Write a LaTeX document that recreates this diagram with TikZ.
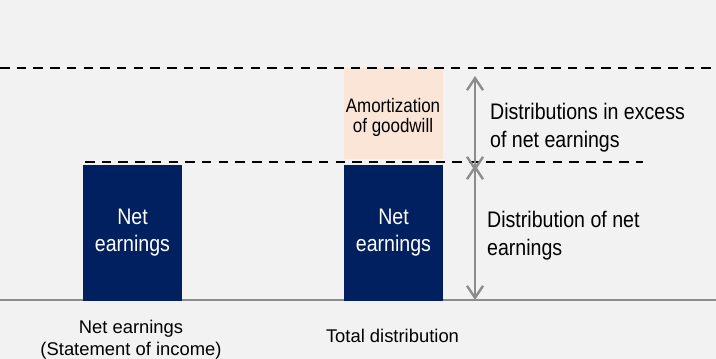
\documentclass[tikz,border=0pt]{standalone}
\usepackage{fontspec}
\setmainfont{Liberation Sans}
\newfontfamily\narrowfont{Liberation Sans}[FakeStretch=0.87]
\usetikzlibrary{arrows.meta}
\definecolor{navybox}{HTML}{002060}
\definecolor{peachbox}{HTML}{FBE5D6}
\definecolor{greyline}{HTML}{8C8C8C}
\definecolor{bgpanel}{HTML}{F2F2F2}
\tikzset{
    earnbox/.style={fill=navybox, text=white, minimum width=99pt, minimum height=136pt, inner sep=0pt, align=center, font=\narrowfont\fontsize{22.5}{27}\selectfont},
    amortbox/.style={fill=peachbox, minimum width=99pt, minimum height=91pt, inner sep=0pt},
    sidetext/.style={anchor=west, inner sep=0pt, align=left, font=\narrowfont\fontsize{22.5}{28}\selectfont},
    bottomtext/.style={inner sep=0pt, align=center, font=\fontsize{18.4}{22}\selectfont},
    dashline/.style={line width=2.7pt, dash pattern=on 9.5pt off 7.2pt},
    dimarrow/.style={draw=greyline, line width=2.4pt, {Straight Barb[length=12pt,width=16pt]}-{Straight Barb[length=12pt,width=16pt]}}
}
\begin{document}
\begin{tikzpicture}[x=1pt, y=-1pt]
        \fill[bgpanel] (0,0) rectangle (716,359);
        \useasboundingbox (0,0) rectangle (716,359);

        \draw[greyline, line width=2.4pt] (0,300) -- (716,300);

        \node[earnbox] at (132.5,233) (netleft) {Net\\earnings};
        \node[amortbox] at (393.5,113.5) (amort) {};
        \node[earnbox] at (393.5,233) (netright) {Net\\earnings};
        \node[inner sep=0pt, align=center, font=\narrowfont\fontsize{19.5}{20}\selectfont] at (393,117) (amorttext) {Amortization\\of goodwill};

        \draw[dashline] (0,68) -- (716,68);
        \draw[dashline] (85,162) -- (643,162);

        \coordinate (exctop) at (475,76);
        \coordinate (excbot) at (475,171);
        \coordinate (nettop) at (475,165);
        \coordinate (netbot) at (475,300);
        \draw[dimarrow] (exctop) -- (excbot);
        \draw[dimarrow] (nettop) -- (netbot);

        \node[sidetext] at (490,128) (excess) {Distributions in excess\\of net earnings};
        \node[sidetext] at (487,236) (distnet) {Distribution of net\\earnings};

        \node[bottomtext] at (131,339.5) (incomelabel) {Net earnings\\(Statement of income)};
        \node[bottomtext, anchor=base] at (392.5,342) (totallabel) {Total distribution};
    \end{tikzpicture}
\end{document}
